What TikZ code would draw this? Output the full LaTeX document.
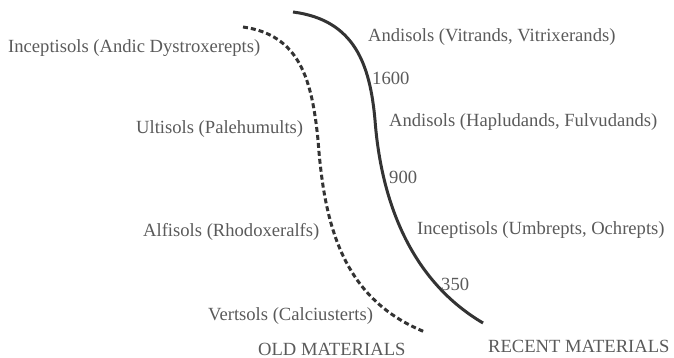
\documentclass[tikz,border=0pt]{standalone}
\usepackage{fontspec}
\setmainfont{Liberation Serif}
\definecolor{labelgray}{HTML}{5A5A5A}
\definecolor{curvegray}{HTML}{333333}
\tikzset{
  soil/.style={anchor=west, inner sep=0pt, text=labelgray, font=\fontsize{18.6}{20}\selectfont},
  recent/.style={draw=curvegray, line width=3pt},
  old/.style={draw=curvegray, line width=3pt, dash pattern=on 5pt off 3pt},
}
\begin{document}
\begin{tikzpicture}[x=1pt, y=-1pt]
\useasboundingbox (0,0) rectangle (674,358);

% old materials (dashed)
\coordinate (oA) at (243,27);
\coordinate (oB) at (318,140);
\coordinate (oC) at (425,332);
\draw[old] (oA) .. controls (300,35) and (312,80) .. (oB)
              .. controls (324,220) and (340,298) .. (oC);

% recent materials (solid)
\coordinate (rA) at (293,12);
\coordinate (rB) at (375,120);
\coordinate (rC) at (483,323);
\draw[recent] (rA) .. controls (355,20) and (370,65) .. (rB)
                 .. controls (381,200) and (410,280) .. (rC);

% left labels
\node[soil] (iAD) at (8,48)   {Inceptisols (Andic Dystroxerepts)};
\node[soil] (uPH) at (136,129) {Ultisols (Palehumults)};
\node[soil] (aRX) at (143,232) {Alfisols (Rhodoxeralfs)};
\node[soil] (vCA) at (208,316) {Vertsols (Calciusterts)};
\node[soil] (oldM) at (258,349) {OLD MATERIALS};

% right labels
\node[soil] (aVV) at (368,37)  {Andisols (Vitrands, Vitrixerands)};
\node[soil] (y16) at (372,78)  {1600};
\node[soil] (aHF) at (389,122) {Andisols (Hapludands, Fulvudands)};
\node[soil] (y9)  at (389,177) {900};
\node[soil] (iUO) at (417,230) {Inceptisols (Umbrepts, Ochrepts)};
\node[soil] (y3)  at (441,284) {350};
\node[soil] (recM) at (488,346) {RECENT MATERIALS};

\end{tikzpicture}
\end{document}
